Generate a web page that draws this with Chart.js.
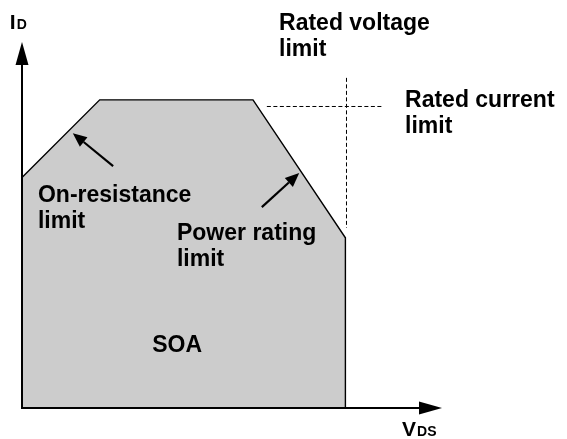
<!DOCTYPE html>
<html>
<head>
<meta charset="utf-8">
<script src="https://cdn.jsdelivr.net/npm/chart.js@4/dist/chart.umd.min.js"></script>
<style>
  html, body { margin: 0; padding: 0; background: #ffffff; }
  #wrap { width: 567px; height: 439px; position: relative; }
</style>
</head>
<body>
<div id="wrap"><canvas id="soa"></canvas></div>
<script>
// Safe operating area boundary (V_DS, I_D) in arbitrary units, axes run 0..100
const boundaryV = [0, 18.5, 55, 77, 77];
const boundaryI = [63, 84.2, 84.2, 46.5, 0];

// Rated current limit (dashed horizontal) and rated voltage limit (dashed vertical)
const ratedCurrentV = [58.3, 85.7];
const ratedCurrentI = [82.38, 82.38];
const ratedVoltageV = [77.26, 77.26];
const ratedVoltageI = [90.2, 49.2];

// Pointer arrows: [tailV, tailI, tipV, tipI]
const onResArrow = [21.7, 66.1, 12.1, 75.1];
const powerArrow = [57.1, 54.9, 66.0, 64.2];

// Text labels: lines and anchor (left, baseline) in axis units
const labelLines = [
  ["Rated voltage", "limit"],
  ["Rated current", "limit"],
  ["On-resistance", "limit"],
  ["Power rating", "limit"],
  ["SOA"]
];
const labelV = [61.2, 91.2, 3.8, 36.9, 31.0];
const labelI = [103.3, 82.2, 56.3, 45.9, 15.3];

const axisY = { main: "I", sub: "D", v: -2.9, i: 103.6 };
const axisX = { main: "V", sub: "DS", v: 90.5, i: -7.6 };

const toPts = (xs, ys) => xs.map((x, k) => ({ x: x, y: ys[k] }));

const overlay = {
  id: 'overlay',
  afterDatasetsDraw(chart) {
    const ctx = chart.ctx;
    const sx = chart.scales.x, sy = chart.scales.y;
    const px = v => sx.getPixelForValue(v), py = v => sy.getPixelForValue(v);
    ctx.save();

    // axes with solid arrowheads
    const x0 = px(0), y0 = py(0), xTop = px(100), yTop = py(100);
    ctx.strokeStyle = '#000';
    ctx.fillStyle = '#000';
    ctx.lineWidth = 2;
    ctx.beginPath();
    ctx.moveTo(x0, y0); ctx.lineTo(x0, yTop + 20);
    ctx.moveTo(x0 - 1, y0); ctx.lineTo(xTop - 20, y0);
    ctx.stroke();
    ctx.beginPath();
    ctx.moveTo(x0, yTop); ctx.lineTo(x0 - 6.5, yTop + 23); ctx.lineTo(x0 + 6.5, yTop + 23); ctx.closePath();
    ctx.fill();
    ctx.beginPath();
    ctx.moveTo(xTop, y0); ctx.lineTo(xTop - 23, y0 - 6.5); ctx.lineTo(xTop - 23, y0 + 6.5); ctx.closePath();
    ctx.fill();

    // pointer arrows
    [onResArrow, powerArrow].forEach(a => {
      const tx = px(a[0]), ty = py(a[1]), hx = px(a[2]), hy = py(a[3]);
      const ang = Math.atan2(hy - ty, hx - tx);
      const L = 14, W = 6;
      const bx = hx - L * Math.cos(ang), by = hy - L * Math.sin(ang);
      ctx.lineWidth = 2.2;
      ctx.beginPath(); ctx.moveTo(tx, ty); ctx.lineTo(bx, by); ctx.stroke();
      ctx.beginPath();
      ctx.moveTo(hx, hy);
      ctx.lineTo(bx + W * Math.sin(ang), by - W * Math.cos(ang));
      ctx.lineTo(bx - W * Math.sin(ang), by + W * Math.cos(ang));
      ctx.closePath(); ctx.fill();
    });

    // labels
    ctx.textBaseline = 'alphabetic';
    ctx.textAlign = 'left';
    ctx.font = 'bold 23px "Liberation Sans", Arial, sans-serif';
    labelLines.forEach((lines, k) => {
      lines.forEach((t, j) => ctx.fillText(t, px(labelV[k]), py(labelI[k]) + j * 26));
    });

    // axis titles with subscripts
    [axisY, axisX].forEach(a => {
      const lx = px(a.v), ly = py(a.i);
      ctx.font = 'bold 21px "Liberation Sans", Arial, sans-serif';
      ctx.fillText(a.main, lx, ly);
      const w = ctx.measureText(a.main).width;
      ctx.font = 'bold 14px "Liberation Sans", Arial, sans-serif';
      ctx.fillText(a.sub, lx + w + 1, ly);
    });
    ctx.restore();
  }
};

new Chart(document.getElementById('soa'), {
  type: 'scatter',
  data: {
    datasets: [
      {
        data: toPts(boundaryV, boundaryI),
        showLine: true,
        fill: 'origin',
        backgroundColor: '#cccccc',
        borderColor: '#000000',
        borderWidth: 1.4,
        pointRadius: 0,
        tension: 0
      },
      {
        data: toPts(ratedCurrentV, ratedCurrentI),
        showLine: true,
        fill: false,
        borderColor: '#000000',
        borderWidth: 1,
        borderDash: [4, 2.5],
        pointRadius: 0
      },
      {
        data: toPts(ratedVoltageV, ratedVoltageI),
        showLine: true,
        fill: false,
        borderColor: '#000000',
        borderWidth: 1,
        borderDash: [4, 2.5],
        pointRadius: 0
      }
    ]
  },
  options: {
    responsive: true,
    maintainAspectRatio: false,
    animation: false,
    layout: { padding: { left: 22, right: 125, top: 42, bottom: 31 } },
    plugins: { legend: { display: false }, tooltip: { enabled: false } },
    scales: {
      x: { type: 'linear', min: 0, max: 100, display: false },
      y: { type: 'linear', min: 0, max: 100, display: false }
    }
  },
  plugins: [overlay]
});
</script>
</body>
</html>
